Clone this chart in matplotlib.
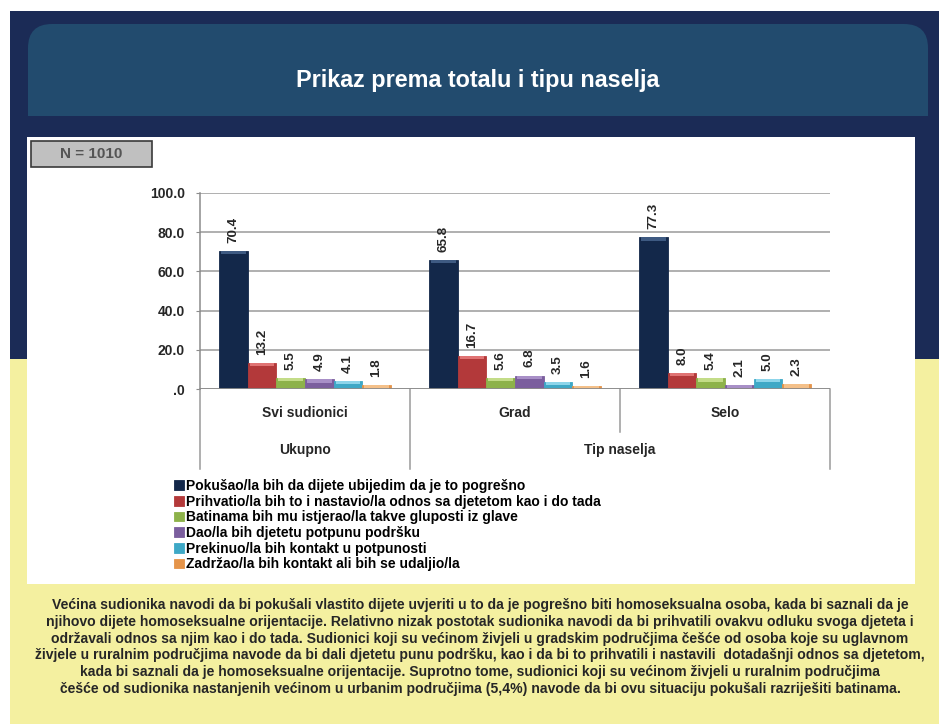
import matplotlib
matplotlib.use("Agg")
import matplotlib.pyplot as plt
import numpy as np
from matplotlib.patches import Rectangle, FancyBboxPatch

# ========================================
# DATA
# ========================================

categories = ["Svi sudionici", "Grad", "Selo"]
groups = ["Ukupno", "Tip naselja"]

series_names = [
    "Pokušao/la bih da dijete ubijedim da je to pogrešno",
    "Prihvatio/la bih to i nastavio/la odnos sa djetetom kao i do tada",
    "Batinama bih mu istjerao/la takve gluposti iz glave",
    "Dao/la bih djetetu potpunu podršku",
    "Prekinuo/la bih kontakt u potpunosti",
    "Zadržao/la bih kontakt ali bih se udaljio/la",
]

pokusao = [70.4, 65.8, 77.3]
prihvatio = [13.2, 16.7, 8.0]
batinama = [5.5, 5.6, 5.4]
podrska = [4.9, 6.8, 2.1]
prekinuo = [4.1, 3.5, 5.0]
udaljio = [1.8, 1.6, 2.3]

yticks = [0, 20, 40, 60, 80, 100]
ytick_labels = [".0", "20.0", "40.0", "60.0", "80.0", "100.0"]

title = "Prikaz prema totalu i tipu naselja"
n_label = "N = 1010"
comment = (
    "Većina sudionika navodi da bi pokušali vlastito dijete uvjeriti u to da je pogrešno biti homoseksualna osoba, kada bi saznali da je\n"
    "njihovo dijete homoseksualne orijentacije. Relativno nizak postotak sudionika navodi da bi prihvatili ovakvu odluku svoga djeteta i\n"
    "održavali odnos sa njim kao i do tada. Sudionici koji su većinom živjeli u gradskim područjima češće od osoba koje su uglavnom\n"
    "živjele u ruralnim područjima navode da bi dali djetetu punu podršku, kao i da bi to prihvatili i nastavili  dotadašnji odnos sa djetetom,\n"
    "kada bi saznali da je homoseksualne orijentacije. Suprotno tome, sudionici koji su većinom živjeli u ruralnim područjima\n"
    "češće od sudionika nastanjenih većinom u urbanim područjima (5,4%) navode da bi ovu situaciju pokušali razriješiti batinama."
)

# ========================================
# STYLE
# ========================================

NAVY_BG = "#1b2b56"
TITLE_BAR = "#224b6e"
YELLOW = "#f4f0a0"
TEXT_DARK = "#262626"
FONT = "Liberation Sans"

bar_colors = ["#13284a", "#b3393a", "#8db24a", "#7b5e9e", "#3ea8c6", "#e5944a"]
cap_colors = ["#3e5a82", "#e07373", "#c3dc88", "#a88fc7", "#8dd5ea", "#f4c089"]

W, H = 939, 724
fig = plt.figure(figsize=(W / 100, H / 100), dpi=100)
fig.patch.set_facecolor("white")

# background panels in pixel coordinates
bg = fig.add_axes([0, 0, 1, 1])
bg.set_xlim(0, W)
bg.set_ylim(H, 0)
bg.axis("off")
bg.add_patch(Rectangle((10, 11), W - 10, 348, color=NAVY_BG, lw=0))
bg.add_patch(Rectangle((10, 359), W - 10, H - 359, color=YELLOW, lw=0))
bg.add_patch(FancyBboxPatch((28, 24), 900, 92, boxstyle="round,pad=0,rounding_size=24",
                            color=TITLE_BAR, lw=0))
bg.add_patch(Rectangle((28, 70), 900, 46, color=TITLE_BAR, lw=0))
bg.add_patch(Rectangle((27, 137), 888, 447, color="white", lw=0))
bg.add_patch(Rectangle((31, 141), 121, 26, facecolor="#c0c0c0", edgecolor="#3a3a3a", lw=1.2))
bg.text(91, 154, n_label, ha="center", va="center", fontsize=11, fontweight="bold",
        color="#555555", family=FONT)

bg.text(478, 81, title, ha="center", va="center", fontsize=16.8, fontweight="bold",
        color="white", family=FONT)
bg.text(480, 647, comment, ha="center", va="center", fontsize=10.1, fontweight="bold",
        color=TEXT_DARK, family=FONT, linespacing=1.24)

# ========================================
# CHART
# ========================================

ax = fig.add_axes([200 / W, 1 - 389 / H, 630 / W, 196 / H])
ax.set_facecolor("none")

series = [pokusao, prihvatio, batinama, podrska, prekinuo, udaljio]
x = np.arange(len(categories))
bw = 0.136

handles = []
for i, vals in enumerate(series):
    pos = x + (i - 2.5) * bw
    b = ax.bar(pos, vals, width=bw, color=bar_colors[i], edgecolor=bar_colors[i],
               linewidth=0.6, zorder=3, label=series_names[i])
    handles.append(b)
    # lighter bevel at the top of each bar
    caps = [min(1.6, v) for v in vals]
    ax.bar(pos, caps, width=bw * 0.86, bottom=np.array(vals) - np.array(caps),
           color=cap_colors[i], lw=0, zorder=4)
    for p, v in zip(pos, vals):
        ax.annotate(f"{v:.1f}", (p, v), xytext=(0, 6), textcoords="offset points",
                    rotation=90, ha="center", va="bottom", fontsize=9.6,
                    fontweight="bold", color=TEXT_DARK, family=FONT)

ax.set_xlim(-0.5, 2.5)
ax.set_ylim(0, 100)
ax.set_yticks(yticks)
ax.set_yticklabels(ytick_labels, fontsize=10, fontweight="bold", color=TEXT_DARK,
                   family=FONT)
ax.tick_params(axis="y", length=3, color="#8c8c8c", pad=8)
ax.set_xticks([])
ax.grid(axis="y", color="#9a9a9a", lw=1.1, zorder=0)
for s in ["top", "right", "bottom"]:
    ax.spines[s].set_visible(False)
ax.spines["left"].set_color("#8c8c8c")
ax.spines["left"].set_linewidth(1.1)
ax.axhline(0, color="#8c8c8c", lw=2, zorder=5)

# category labels and dividers below the axis
xt = ax.get_xaxis_transform()
for xi, c in zip(x, categories):
    ax.text(xi, -0.12, c, transform=xt, ha="center", va="center", fontsize=10,
            fontweight="bold", color=TEXT_DARK, family=FONT)
ax.text(0, -0.31, groups[0], transform=xt, ha="center", va="center", fontsize=10,
        fontweight="bold", color=TEXT_DARK, family=FONT)
ax.text(1.5, -0.31, groups[1], transform=xt, ha="center", va="center", fontsize=10,
        fontweight="bold", color=TEXT_DARK, family=FONT)
for bx, depth in [(-0.5, -0.41), (0.5, -0.41), (1.5, -0.22), (2.5, -0.41)]:
    ax.plot([bx, bx], [0, depth], transform=xt, color="#9a9a9a", lw=1.1, clip_on=False)

fig.legend(handles=handles, labels=series_names, loc="upper left",
           bbox_to_anchor=(174 / W, 1 - 479 / H), frameon=False,
           prop={"family": FONT, "weight": "bold", "size": 10},
           handlelength=0.7, handleheight=0.7, handletextpad=0.15,
           labelspacing=0.12, borderpad=0, borderaxespad=0)

fig.savefig("out.png", dpi=100)
